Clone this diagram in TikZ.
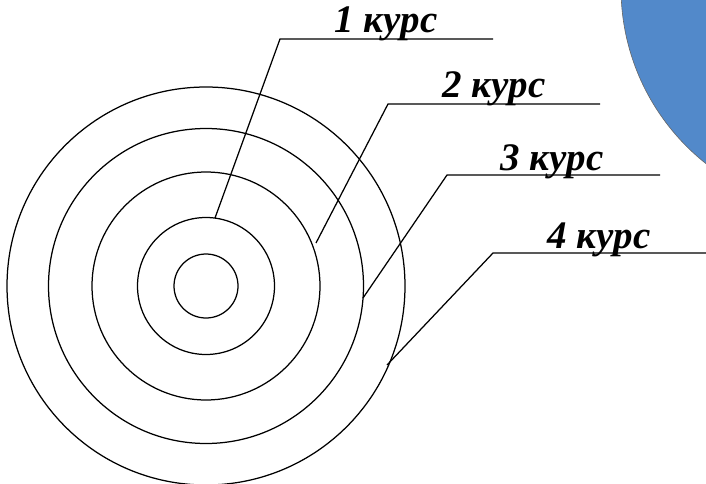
\documentclass[tikz,border=0pt]{standalone}
\usepackage{fontspec}
\setmainfont{Liberation Serif}
\definecolor{discblue}{RGB}{82,137,202}
\begin{document}
\begin{tikzpicture}[x=1pt, y=-1pt, line width=1.25pt,
    kurs/.style={font=\fontsize{39}{42}\selectfont\bfseries\itshape, anchor=base, inner sep=0pt}]
    \useasboundingbox (0,0) rectangle (706,484);

    % Blue disc in the corner
    \filldraw[fill=discblue, draw=black!60, line width=0.6pt] (845,-12) circle[radius=224pt];

    % Rings
    \foreach \r in {32, 68.5, 114, 157.5, 199} {
        \draw (206,286) circle[radius=\r pt];
    }

    % Labels
    \node[kurs] (k1) at (386,33) {1 курс};
    \node[kurs] (k2) at (494,98) {2 курс};
    \node[kurs] (k3) at (552,170) {3 курс};
    \node[kurs] (k4) at (599,248) {4 курс};

    % Leader lines
    \coordinate (p1) at (215,218);
    \coordinate (b1) at (280,39);
    \coordinate (e1) at (493,39);
    \coordinate (p2) at (316,243);
    \coordinate (b2) at (388,104);
    \coordinate (e2) at (600,104);
    \coordinate (p3) at (363,298);
    \coordinate (b3) at (447,175);
    \coordinate (e3) at (660,175);
    \coordinate (p4) at (387,365);
    \coordinate (b4) at (493,253);
    \coordinate (e4) at (706,253);

    \draw (p1) -- (b1) -- (e1);
    \draw (p2) -- (b2) -- (e2);
    \draw (p3) -- (b3) -- (e3);
    \draw (p4) -- (b4) -- (e4);
\end{tikzpicture}
\end{document}
